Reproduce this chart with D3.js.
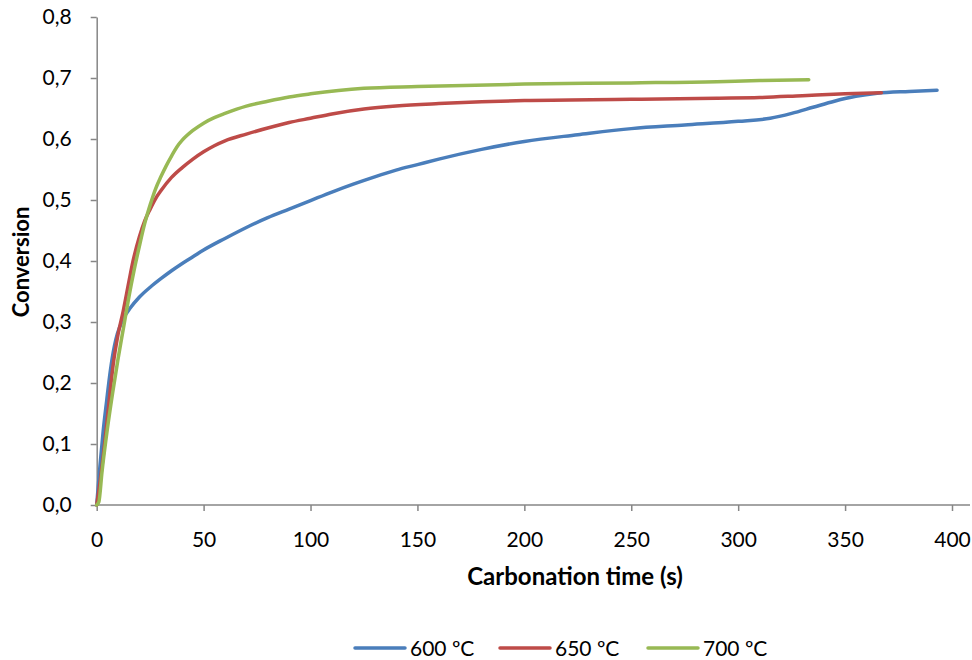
<!DOCTYPE html>
<html>
<head>
<meta charset="utf-8">
<script src="https://cdn.jsdelivr.net/npm/d3@7"></script>
<style>
  body { margin: 0; background: #fff; }
  text { font-family: Lato, "Open Sans", sans-serif; fill: #000; }
</style>
</head>
<body>
<div id="chart"></div>
<script>
// values
var seriesNames = ["600 ºC", "650 ºC", "700 ºC"];
var seriesColors = ["#4a7ebb", "#be4b48", "#98b954"];

var s600 = [[0,0],[1.5,0.063],[3,0.12],[4.7,0.172],[6,0.21],[7.7,0.25],[9,0.272],[10.9,0.293],[13,0.309],
  [15.5,0.322],[20,0.341],[25,0.357],[30,0.371],[35,0.384],[40,0.396],[45,0.407],[50,0.418],[60,0.437],
  [70,0.455],[80,0.471],[90,0.485],[100,0.499],[110,0.513],[120,0.526],[130,0.538],[140,0.549],[150,0.558],
  [160,0.567],[180,0.583],[200,0.596],[225,0.607],[250,0.617],[275,0.623],[300,0.629],[315,0.634],[325,0.642],
  [335,0.652],[345,0.662],[355,0.67],[365,0.675],[380,0.678],[393,0.68]];

var s650 = [[0,0],[2,0.05],[4,0.11],[5.5,0.16],[7.7,0.23],[10,0.28],[12.4,0.318],[15,0.365],[17,0.4],
  [20,0.44],[22.5,0.466],[25,0.485],[27.5,0.502],[30,0.515],[35,0.537],[40,0.553],[45,0.567],[50,0.579],
  [55,0.589],[60,0.597],[70,0.608],[80,0.618],[90,0.627],[100,0.634],[110,0.641],[125,0.649],[140,0.654],
  [160,0.658],[180,0.661],[200,0.663],[250,0.665],[290,0.667],[310,0.668],[330,0.671],[350,0.674],[367,0.676]];

var s700 = [[0,0],[1,0.005],[2.5,0.055],[5,0.125],[7.5,0.185],[10,0.24],[12.5,0.29],[15,0.34],[17.5,0.385],
  [20,0.425],[22.5,0.462],[25,0.492],[27.5,0.518],[30,0.538],[32.5,0.556],[35,0.572],[37.5,0.587],[40,0.598],
  [45,0.614],[50,0.626],[55,0.635],[60,0.642],[70,0.654],[80,0.662],[90,0.669],[100,0.674],[125,0.683],
  [150,0.686],[200,0.69],[250,0.692],[290,0.694],[310,0.696],[333,0.697]];

var xTicks = [0, 50, 100, 150, 200, 250, 300, 350, 400];
var yTicks = [0, 0.1, 0.2, 0.3, 0.4, 0.5, 0.6, 0.7, 0.8];

var W = 972, H = 660;
var svg = d3.select("#chart").append("svg").attr("width", W).attr("height", H);

var x = d3.scaleLinear().domain([0, 400]).range([96.7, 952]);
var y = d3.scaleLinear().domain([0, 0.8]).range([505, 17]);

var axisColor = "#868686";
var fs = 21;

// x axis
var gx = svg.append("g").attr("transform", "translate(0,505)")
  .call(d3.axisBottom(x).tickValues(xTicks).tickSize(6).tickPadding(21).tickSizeOuter(0));
gx.select(".domain").remove();
gx.append("line").attr("x1", 96.7).attr("x2", 970).attr("stroke", axisColor).attr("stroke-width", 1.5);
gx.selectAll(".tick line").attr("stroke", axisColor).attr("stroke-width", 1.5);
gx.selectAll(".tick text").attr("font-size", fs).attr("font-family", "Lato, sans-serif").attr("fill", "#000");

// y axis
var gy = svg.append("g").attr("transform", "translate(96.7,0)")
  .call(d3.axisLeft(y).tickValues(yTicks).tickSize(6).tickPadding(19).tickSizeOuter(0)
    .tickFormat(function(d){ return d3.format(".1f")(d).replace(".", ","); }));
gy.select(".domain").attr("stroke", axisColor).attr("stroke-width", 1.5);
gy.selectAll(".tick line").attr("stroke", axisColor).attr("stroke-width", 1.5);
gy.selectAll(".tick text").attr("font-size", fs).attr("font-family", "Lato, sans-serif").attr("fill", "#000");

// axis titles
svg.append("text").attr("x", 575).attr("y", 585).attr("text-anchor", "middle")
  .attr("font-size", 24).attr("font-weight", "bold").text("Carbonation time (s)");
svg.append("text").attr("transform", "translate(29,262) rotate(-90)").attr("text-anchor", "middle")
  .attr("font-size", 22).attr("font-weight", "bold").text("Conversion");

// lines
var line = d3.line()
  .x(function(d){ return x(d[0]); })
  .y(function(d){ return y(d[1]); })
  .curve(d3.curveMonotoneX);

[s600, s650, s700].forEach(function(s, i){
  svg.append("path").datum(s)
    .attr("fill", "none")
    .attr("stroke", seriesColors[i])
    .attr("stroke-width", 3.5)
    .attr("stroke-linecap", "round")
    .attr("d", line);
});

// legend
var legendX = [355, 500, 648];
seriesNames.forEach(function(name, i){
  var g = svg.append("g").attr("transform", "translate(" + legendX[i] + ",648)");
  g.append("line").attr("x1", 0).attr("x2", 50).attr("y1", 0).attr("y2", 0)
    .attr("stroke", seriesColors[i]).attr("stroke-width", 3.5).attr("stroke-linecap", "round");
  g.append("text").attr("x", 55).attr("y", 8).attr("font-size", fs).text(name);
});
</script>
</body>
</html>
